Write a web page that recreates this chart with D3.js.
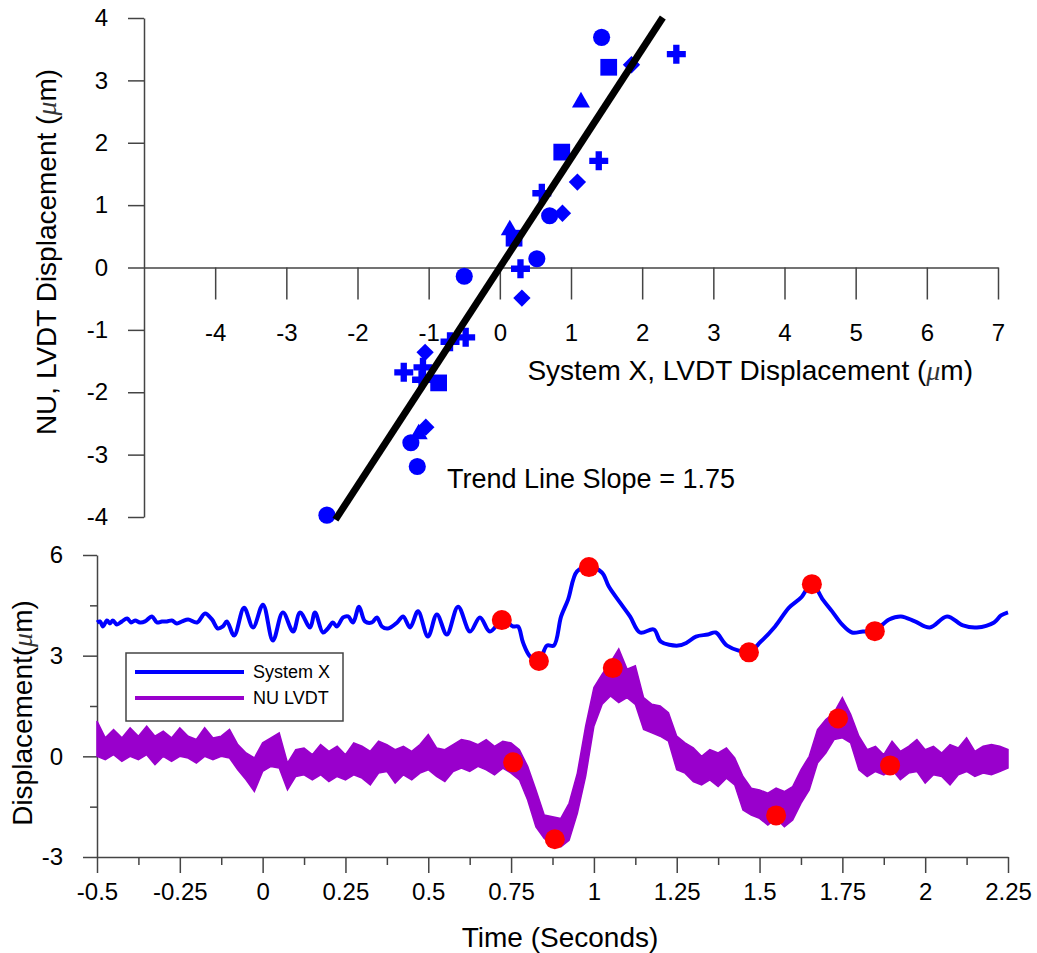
<!DOCTYPE html>
<html><head><meta charset="utf-8">
<script src="https://cdn.jsdelivr.net/npm/d3@7"></script>
<style>
body{margin:0;background:#fff}
svg{display:block}
text{font-family:"Liberation Sans",Arial,sans-serif}
</style>
</head><body>
<svg id="c" width="1037" height="953"></svg>
<script>
// ---------- Top scatter data (System X vs NU LVDT displacement, µm) ----------
const circlePts  = [[1.43,3.69],[0.70,0.83],[0.52,0.14],[-0.50,-0.14],[-1.25,-2.81],[-1.16,-3.19],[-2.43,-3.97]];
const squarePts  = [[1.53,3.21],[0.87,1.85],[0.20,0.47],[-0.86,-1.85]];
const trianglePts= [[1.14,2.65],[0.14,0.60],[-1.14,-2.67]];
const diamondPts = [[1.85,3.25],[1.09,1.37],[0.88,0.87],[0.31,-0.49],[-1.05,-1.36],[-1.04,-2.56]];
const plusPts    = [[2.48,3.42],[1.39,1.71],[0.59,1.19],[0.29,-0.02],[-1.35,-1.68],[-1.08,-1.60],[-1.10,-1.80],[-0.70,-1.19],[-0.48,-1.12]];
const trendSlope = 1.75;
const trendIntercept = 0.0;
const trendXRange = [-2.31, 2.29];
const scatterXTicks = [-4,-3,-2,-1,0,1,2,3,4,5,6,7];
const scatterYTicks = [-4,-3,-2,-1,0,1,2,3,4];

// ---------- Bottom time series ----------
const sysTime = [-0.500,-0.491,-0.482,-0.470,-0.461,-0.452,-0.440,-0.425,-0.409,-0.397,-0.385,-0.370,-0.355,-0.334,-0.319,-0.304,-0.289,-0.274,-0.259,-0.243,-0.225,-0.198,-0.174,-0.153,-0.135,-0.120,-0.108,-0.086,-0.056,-0.029,0.001,0.031,0.061,0.092,0.113,0.143,0.158,0.182,0.197,0.212,0.224,0.243,0.258,0.273,0.291,0.309,0.330,0.345,0.360,0.378,0.406,0.424,0.445,0.469,0.499,0.526,0.556,0.590,0.626,0.656,0.686,0.725,0.756,0.771,0.786,0.807,0.834,0.858,0.879,0.901,0.922,0.949,0.985,1.024,1.045,1.079,1.109,1.139,1.181,1.202,1.254,1.281,1.308,1.344,1.368,1.402,1.468,1.504,1.547,1.589,1.625,1.658,1.691,1.719,1.749,1.779,1.812,1.848,1.891,1.927,1.969,2.014,2.066,2.114,2.156,2.208,2.229,2.250];
const sysVal  = [3.99,4.02,3.87,4.05,3.96,4.05,3.93,4.02,4.11,3.99,4.05,3.99,4.02,4.17,3.99,4.02,4.02,4.05,3.96,4.02,4.08,3.99,4.26,4.08,3.81,3.87,4.02,3.60,4.43,3.84,4.52,3.45,4.29,3.72,4.29,3.84,4.29,3.69,3.81,3.99,3.87,4.14,4.17,3.99,4.46,4.02,3.99,4.14,3.87,3.81,3.99,4.17,3.84,4.32,3.57,4.23,3.63,4.46,3.72,4.14,3.72,4.08,3.87,3.87,3.39,2.98,2.83,3.30,3.30,4.17,4.67,5.51,5.65,5.48,5.06,4.58,4.17,3.69,3.78,3.42,3.30,3.39,3.57,3.63,3.69,3.30,3.12,3.42,3.87,4.43,4.73,5.15,4.67,4.32,3.93,3.69,3.72,3.75,4.08,4.17,4.02,3.84,4.17,3.90,3.84,3.99,4.20,4.29];

const nuTime = [-0.500,-0.475,-0.450,-0.425,-0.400,-0.375,-0.350,-0.325,-0.300,-0.275,-0.250,-0.225,-0.200,-0.175,-0.150,-0.125,-0.100,-0.075,-0.050,-0.025,0.000,0.025,0.050,0.075,0.100,0.125,0.150,0.175,0.200,0.225,0.250,0.275,0.300,0.325,0.350,0.375,0.400,0.425,0.450,0.475,0.500,0.525,0.550,0.575,0.600,0.625,0.650,0.675,0.700,0.725,0.750,0.775,0.800,0.825,0.850,0.875,0.900,0.925,0.950,0.975,1.000,1.025,1.050,1.075,1.100,1.125,1.150,1.175,1.200,1.225,1.250,1.275,1.300,1.325,1.350,1.375,1.400,1.425,1.450,1.475,1.500,1.525,1.550,1.575,1.600,1.625,1.650,1.675,1.700,1.725,1.750,1.775,1.800,1.825,1.850,1.875,1.900,1.925,1.950,1.975,2.000,2.025,2.050,2.075,2.100,2.125,2.150,2.175,2.200,2.225,2.250];
const nuHigh = [1.05,0.55,0.80,0.55,0.85,0.60,0.90,0.60,0.75,0.55,0.85,0.60,0.50,0.85,0.55,0.60,0.80,0.35,0.10,-0.05,0.40,0.55,0.70,-0.20,0.20,0.25,0.05,0.35,0.15,0.30,0.05,0.40,0.30,0.15,0.45,0.35,0.20,0.30,0.15,0.35,0.65,0.25,0.20,0.35,0.50,0.45,0.35,0.50,0.30,0.45,0.40,0.20,-0.30,-1.00,-1.75,-1.80,-1.85,-1.40,-0.50,0.90,2.05,2.45,2.80,3.20,2.60,2.70,1.75,1.55,1.50,1.30,0.60,0.40,0.25,0.00,0.20,0.10,0.25,-0.05,-0.60,-0.95,-1.00,-1.10,-0.95,-1.05,-0.90,-0.40,0.00,0.80,1.10,1.30,1.75,1.25,0.60,0.20,0.30,0.05,0.45,0.15,0.30,0.50,0.20,0.30,0.10,0.35,0.25,0.55,0.15,0.30,0.35,0.30,0.20];
const nuLow  = [0.00,-0.10,0.05,-0.15,0.00,-0.10,0.05,-0.25,0.00,-0.15,0.00,-0.05,-0.20,0.00,-0.10,0.00,-0.05,-0.40,-0.70,-1.05,-0.45,-0.30,-0.35,-1.00,-0.60,-0.55,-0.70,-0.55,-0.75,-0.60,-0.70,-0.55,-0.65,-0.85,-0.50,-0.45,-0.80,-0.55,-0.70,-0.50,-0.40,-0.60,-0.75,-0.45,-0.35,-0.45,-0.30,-0.40,-0.55,-0.35,-0.50,-0.70,-1.30,-2.10,-2.45,-2.60,-2.70,-2.50,-1.70,-0.60,0.90,1.55,1.80,1.60,1.75,1.55,0.80,0.70,0.60,0.45,-0.40,-0.50,-0.75,-0.85,-0.70,-0.90,-0.65,-0.85,-1.60,-1.75,-1.85,-2.05,-1.85,-2.10,-1.90,-1.40,-1.00,-0.20,0.10,0.50,0.55,0.40,-0.40,-0.60,-0.45,-0.55,-0.40,-0.70,-0.50,-0.45,-0.80,-0.55,-0.60,-0.85,-0.55,-0.45,-0.60,-0.50,-0.55,-0.45,-0.35];

const sysMarkT = [0.722,0.834,0.985,1.468,1.658,1.848];
const sysMarkV = [4.06,2.84,5.64,3.10,5.13,3.73];
const nuMarkT  = [0.756,0.882,1.057,1.550,1.737,1.894];
const nuMarkV  = [-0.18,-2.47,2.63,-1.76,1.13,-0.27];

const timeTicks = [-0.5,-0.25,0,0.25,0.5,0.75,1,1.25,1.5,1.75,2,2.25];
const timeMinor = [-0.375,-0.125,0.125,0.375,0.625,0.875,1.125,1.375,1.625,1.875,2.125];
const dispTicks = [-3,0,3,6];
const dispMinor = [-1.5,1.5,4.5];
const seriesNames = ["System X","NU LVDT"];

// ---------- drawing ----------
const BLUE = "#0000ff", PURPLE = "#9900cc", RED = "#ff0000", AXIS = "#444";
const svg = d3.select("#c");
const fmt = d => (d < 0 ? "-" + Math.abs(d) : String(d));

function styleAxis(g, fs) {
  g.attr("font-family", null).attr("font-size", null);
  g.selectAll("path,line").attr("stroke", AXIS).attr("stroke-width", 1.5);
  g.selectAll("text").attr("fill", "#000").style("font-size", fs + "px")
    .style("font-family", '"Liberation Sans",Arial,sans-serif');
}

// Top chart scales
const xS = d3.scaleLinear().domain([-5, 7]).range([144, 998]);
const yS = d3.scaleLinear().domain([-4, 4]).range([517, 18]);

const gYS = svg.append("g").attr("transform", "translate(144,0)")
  .call(d3.axisLeft(yS).tickValues(scatterYTicks).tickSize(16).tickSizeOuter(0).tickPadding(20).tickFormat(fmt));
styleAxis(gYS, 24);
const gXS = svg.append("g").attr("transform", `translate(0,${yS(0)})`)
  .call(d3.axisBottom(xS).tickValues(scatterXTicks).tickSize(32).tickSizeOuter(0).tickPadding(24).tickFormat(fmt));
styleAxis(gXS, 24);

// scatter symbols
const sym = (type, size) => d3.symbol().type(type).size(size)();
function plotPts(pts, type, size, rot) {
  svg.append("g").selectAll("path").data(pts).join("path")
    .attr("d", sym(type, size))
    .attr("transform", d => `translate(${xS(d[0])},${yS(d[1])})` + (rot ? ` rotate(${rot})` : ""))
    .attr("fill", BLUE);
}
plotPts(circlePts, d3.symbolCircle, 230);
plotPts(squarePts, d3.symbolSquare, 280);
plotPts(trianglePts, d3.symbolTriangle, 140);
plotPts(diamondPts, d3.symbolSquare, 150, 45);
plotPts(plusPts, d3.symbolCross, 200);

// trend line
svg.append("line")
  .attr("x1", xS(trendXRange[0])).attr("y1", yS(trendSlope * trendXRange[0] + trendIntercept))
  .attr("x2", xS(trendXRange[1])).attr("y2", yS(trendSlope * trendXRange[1] + trendIntercept))
  .attr("stroke", "#000").attr("stroke-width", 7);

// top titles
const xt = svg.append("text").attr("x", 973).attr("y", 380).attr("text-anchor", "end")
  .style("font-size", "28px").attr("fill", "#000");
xt.append("tspan").text("System X, LVDT Displacement (");
xt.append("tspan").text("μ").style("font-family", '"Liberation Serif",serif').style("font-style", "italic").attr("fill", "#333");
xt.append("tspan").text("m)");

const yt = svg.append("text").attr("transform", "translate(56,252) rotate(-90)").attr("text-anchor", "middle")
  .style("font-size", "28px").attr("fill", "#000");
yt.append("tspan").text("NU, LVDT Displacement (");
yt.append("tspan").text("μ").style("font-family", '"Liberation Serif",serif').style("font-style", "italic").attr("fill", "#333");
yt.append("tspan").text("m)");

svg.append("text").attr("x", 447).attr("y", 488).style("font-size", "27px").attr("fill", "#000")
  .text("Trend Line Slope = " + trendSlope.toFixed(2));

// Bottom chart scales
const xT = d3.scaleLinear().domain([-0.5, 2.25]).range([97, 1008]);
const yT = d3.scaleLinear().domain([-3, 6]).range([857, 555]);

const gYT = svg.append("g").attr("transform", "translate(97,0)")
  .call(d3.axisLeft(yT).tickValues(dispTicks).tickSize(14).tickSizeOuter(0).tickPadding(20).tickFormat(fmt));
styleAxis(gYT, 24);
const gYTm = svg.append("g").attr("transform", "translate(97,0)")
  .call(d3.axisLeft(yT).tickValues(dispMinor).tickSize(7).tickFormat(""));
styleAxis(gYTm, 24);
gYTm.select(".domain").remove();

const gXT = svg.append("g").attr("transform", "translate(0,857)")
  .call(d3.axisBottom(xT).tickValues(timeTicks).tickSize(16).tickSizeOuter(0).tickPadding(10).tickFormat(fmt));
styleAxis(gXT, 24);
const gXTm = svg.append("g").attr("transform", "translate(0,857)")
  .call(d3.axisBottom(xT).tickValues(timeMinor).tickSize(8).tickFormat(""));
styleAxis(gXTm, 24);
gXTm.select(".domain").remove();

// NU LVDT band (min/max envelope of the noisy signal)
const nuData = nuTime.map((t, i) => ({t, hi: nuHigh[i], lo: nuLow[i]}));
svg.append("path").datum(nuData)
  .attr("d", d3.area().x(d => xT(d.t)).y0(d => yT(d.lo)).y1(d => yT(d.hi)))
  .attr("fill", PURPLE).attr("stroke", PURPLE).attr("stroke-width", 1.5).attr("stroke-linejoin", "miter");

// System X line
const sysData = sysTime.map((t, i) => ({t, v: sysVal[i]}));
svg.append("path").datum(sysData)
  .attr("d", d3.line().x(d => xT(d.t)).y(d => yT(d.v)).curve(d3.curveCatmullRom.alpha(0.5)))
  .attr("fill", "none").attr("stroke", BLUE).attr("stroke-width", 4).attr("stroke-linejoin", "round");

// red markers
svg.append("g").selectAll("circle").data(sysMarkT.map((t, i) => [t, sysMarkV[i]]).concat(nuMarkT.map((t, i) => [t, nuMarkV[i]])))
  .join("circle").attr("cx", d => xT(d[0])).attr("cy", d => yT(d[1])).attr("r", 10).attr("fill", RED);

// legend
const lg = svg.append("g");
lg.append("rect").attr("x", 126).attr("y", 653).attr("width", 217).attr("height", 68)
  .attr("fill", "#fff").attr("stroke", AXIS).attr("stroke-width", 1.5);
[BLUE, PURPLE].forEach((c, i) => {
  const y = 672 + i * 26;
  lg.append("line").attr("x1", 135).attr("x2", 244).attr("y1", y).attr("y2", y).attr("stroke", c).attr("stroke-width", 4);
  lg.append("text").attr("x", 253).attr("y", y + 6).style("font-size", "18px").attr("fill", "#000").text(seriesNames[i]);
});

// bottom titles
svg.append("text").attr("x", 560).attr("y", 947).attr("text-anchor", "middle").style("font-size", "28px").attr("fill", "#000")
  .text("Time (Seconds)");
const yb = svg.append("text").attr("transform", "translate(32,713) rotate(-90)").attr("text-anchor", "middle")
  .style("font-size", "28px").attr("fill", "#000");
yb.append("tspan").text("Displacement(");
yb.append("tspan").text("μ").style("font-family", '"Liberation Serif",serif').style("font-style", "italic").attr("fill", "#333");
yb.append("tspan").text("m)");
</script>
</body></html>
